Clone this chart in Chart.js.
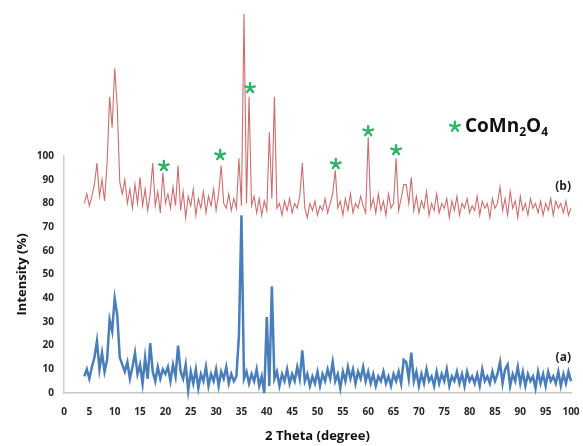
<!DOCTYPE html>
<html>
<head>
<meta charset="utf-8">
<script src="https://cdn.jsdelivr.net/npm/chart.js@4.4.0/dist/chart.umd.min.js"></script>
<style>
  body { margin: 0; background: #fff; }
  #caja { width: 583px; height: 446px; }
</style>
</head>
<body>
<div id="caja"><canvas id="plot1"></canvas></div>
<script>
let twoTheta = [
  4,4.5,5,5.5,6,6.5,7,7.5,8,8.5,
  9,9.5,10,10.5,11,11.5,12,12.5,13,13.5,
  14,14.5,15,15.5,16,16.5,17,17.5,18,18.5,
  19,19.5,20,20.5,21,21.5,22,22.5,23,23.5,
  24,24.5,25,25.5,26,26.5,27,27.5,28,28.5,
  29,29.5,30,30.5,31,31.5,32,32.5,33,33.5,
  34,34.5,35,35.5,36,36.5,37,37.5,38,38.5,
  39,39.5,40,40.5,41,41.5,42,42.5,43,43.5,
  44,44.5,45,45.5,46,46.5,47,47.5,48,48.5,
  49,49.5,50,50.5,51,51.5,52,52.5,53,53.5,
  54,54.5,55,55.5,56,56.5,57,57.5,58,58.5,
  59,59.5,60,60.5,61,61.5,62,62.5,63,63.5,
  64,64.5,65,65.5,66,66.5,67,67.5,68,68.5,
  69,69.5,70,70.5,71,71.5,72,72.5,73,73.5,
  74,74.5,75,75.5,76,76.5,77,77.5,78,78.5,
  79,79.5,80,80.5,81,81.5,82,82.5,83,83.5,
  84,84.5,85,85.5,86,86.5,87,87.5,88,88.5,
  89,89.5,90,90.5,91,91.5,92,92.5,93,93.5,
  94,94.5,95,95.5,96,96.5,97,97.5,98,98.5,
  99,99.5,100
];

// muestra (b), curva roja
let intensidadB = [
  80,84,79,83,88,97,83,90,81,97,
  125,112,137,121,89,84,90,80,86,78,
  88,80,91,79,86,77,84,97,79,85,
  76,93,80,84,78,87,79,96,77,85,
  74,83,79,86,75,82,78,85,76,83,
  79,86,77,84,96,80,78,84,77,82,
  78,99,79,160,80,125,79,83,76,82,
  75,81,77,110,82,125,78,80,75,81,
  77,82,76,80,78,83,97,78,74,80,
  77,81,75,79,77,82,76,80,84,94,
  78,81,75,82,77,84,76,80,78,83,
  79,76,108,78,82,76,84,77,81,75,
  84,78,80,99,77,82,88,88,80,91,
  77,83,76,81,78,85,75,80,77,84,
  76,80,78,82,74,81,77,83,75,80,
  78,82,76,79,77,83,75,81,78,80,
  74,82,78,80,87,77,82,75,85,78,
  81,74,83,77,80,75,82,78,80,76,
  81,75,80,77,82,75,81,78,80,76,
  81,75,78
];

// muestra (a), curva azul
let intensidadA = [
  7,10,6,11,15,22,10,17,9,14,
  31,26,40,33,15,12,9,13,6,11,
  17,8,12,4,15,6,21,9,5,11,
  6,10,8,11,5,12,7,20,9,6,
  12,1,9,4,10,2,8,5,11,3,
  8,5,10,3,9,6,11,4,8,5,
  7,24,75,6,9,4,8,5,10,3,
  7,0,32,3,45,6,9,3,8,5,
  10,4,8,5,11,6,18,5,8,3,
  7,4,9,3,8,5,10,6,13,5,
  8,2,9,5,11,6,10,4,9,6,
  11,5,9,4,8,3,7,5,9,4,
  7,3,8,5,9,4,14,13,6,17,
  5,9,3,8,4,10,5,7,3,9,
  4,8,5,10,3,7,5,9,4,8,
  3,9,5,7,4,8,3,10,5,7,
  4,9,5,8,13,4,10,12,3,8,
  5,11,4,9,3,8,5,7,2,9,
  4,8,3,9,5,7,4,9,3,8,
  4,9,5
];

let estrellaTheta = [19.7, 30.8, 36.7, 53.6, 60, 65.5];
let estrellaIntensidad = [95.8, 100.4, 128.7, 96.6, 110.5, 102.5];

let etiquetas = ["(a)", "(b)"];
let etiquetaIntensidad = [15, 87];

let leyendaTheta = 77.1;
let leyendaIntensidad = 112.4;

let verde = "#2fb36a";

let dibujarEstrella = (ctx, cx, cy) => {
    ctx.save();
    ctx.strokeStyle = verde;
    ctx.lineWidth = 2.4;
    ctx.lineCap = "round";
    ctx.beginPath();
    for (let k = 0; k < 5; k++) {
        let ang = -Math.PI / 2 + k * 2 * Math.PI / 5;
        ctx.moveTo(cx, cy);
        ctx.lineTo(cx + 5 * Math.cos(ang), cy + 5 * Math.sin(ang));
    }
    ctx.stroke();
    ctx.restore();
}

let marcas = {
    id: "marcas",
    afterDatasetsDraw: (chart) => {
        let ctx = chart.ctx;
        let xs = chart.scales.x;
        let ys = chart.scales.y;
        ctx.save();

        for (let i = 0; i < estrellaTheta.length; i++) {
            dibujarEstrella(ctx, xs.getPixelForValue(estrellaTheta[i]), ys.getPixelForValue(estrellaIntensidad[i]));
        }

        ctx.fillStyle = "#222";
        ctx.font = "bold 12px 'Open Sans'";
        ctx.textAlign = "right";
        ctx.textBaseline = "middle";
        for (let i = 0; i < etiquetas.length; i++) {
            ctx.fillText(etiquetas[i], xs.getPixelForValue(100), ys.getPixelForValue(etiquetaIntensidad[i]));
        }

        // leyenda CoMn2O4
        let lx = xs.getPixelForValue(leyendaTheta);
        let ly = ys.getPixelForValue(leyendaIntensidad);
        dibujarEstrella(ctx, lx, ly);
        ctx.textAlign = "left";
        ctx.textBaseline = "alphabetic";
        ctx.fillStyle = "#111";
        let partes = [["CoMn", 0], ["2", 1], ["O", 0], ["4", 1]];
        let px = lx + 10;
        partes.forEach(p => {
            ctx.font = p[1] ? "bold 12px 'Open Sans'" : "bold 19px 'Open Sans'";
            ctx.fillText(p[0], px, ly + (p[1] ? 9 : 5));
            px += ctx.measureText(p[0]).width;
        });

        ctx.restore();
    }
};

let fuenteTicks = { family: "'Open Sans'", weight: "bold", size: 10 };
let fuenteTitulo = { family: "'Open Sans'", weight: "bold", size: 13 };

let plotRef = document.getElementById("plot1");
let config1 = {
    type: "line",
    data: {
        datasets: [
            {
                label: "(b)",
                data: twoTheta.map((t, i) => ({ x: t, y: intensidadB[i] })),
                borderColor: "rgba(196,84,84,0.85)",
                borderWidth: 1.1,
                pointRadius: 0,
                tension: 0,
                clip: false
            },
            {
                label: "(a)",
                data: twoTheta.map((t, i) => ({ x: t, y: intensidadA[i] })),
                borderColor: "#4a7ebb",
                borderWidth: 2.5,
                pointRadius: 0,
                tension: 0,
                clip: false
            }
        ]
    },
    options: {
        responsive: true,
        maintainAspectRatio: false,
        animation: false,
        layout: { padding: { top: 156, right: 12, left: 0, bottom: 0 } },
        plugins: { legend: { display: false }, tooltip: { enabled: false } },
        scales: {
            x: {
                type: "linear",
                min: 0,
                max: 100,
                grid: { display: false, drawTicks: false },
                border: { display: true, color: "#c8c8c8", width: 1.5 },
                ticks: { stepSize: 5, color: "#262626", font: fuenteTicks, padding: 13, maxRotation: 0, autoSkip: false },
                title: { display: true, text: "2 Theta (degree)", color: "#111", font: fuenteTitulo, padding: { top: 0, bottom: 2 } },
                afterFit: (scale) => {
                    scale.height = 53;
                    scale.paddingLeft = 0;
                    scale.paddingRight = 0;
                }
            },
            y: {
                min: 0,
                max: 100,
                grid: { display: false, drawTicks: false },
                border: { display: true, color: "#d0d0d0", width: 1.5 },
                ticks: { stepSize: 10, color: "#262626", font: fuenteTicks, padding: 10 },
                title: { display: true, text: "Intensity (%)", color: "#111", font: fuenteTitulo, padding: { top: 14, bottom: 0 } },
                afterFit: (scale) => {
                    scale.width = 64;
                    scale.paddingTop = 0;
                    scale.paddingBottom = 0;
                }
            }
        }
    },
    plugins: [marcas]
};

let chart1 = new Chart(plotRef, config1);
</script>
</body>
</html>
